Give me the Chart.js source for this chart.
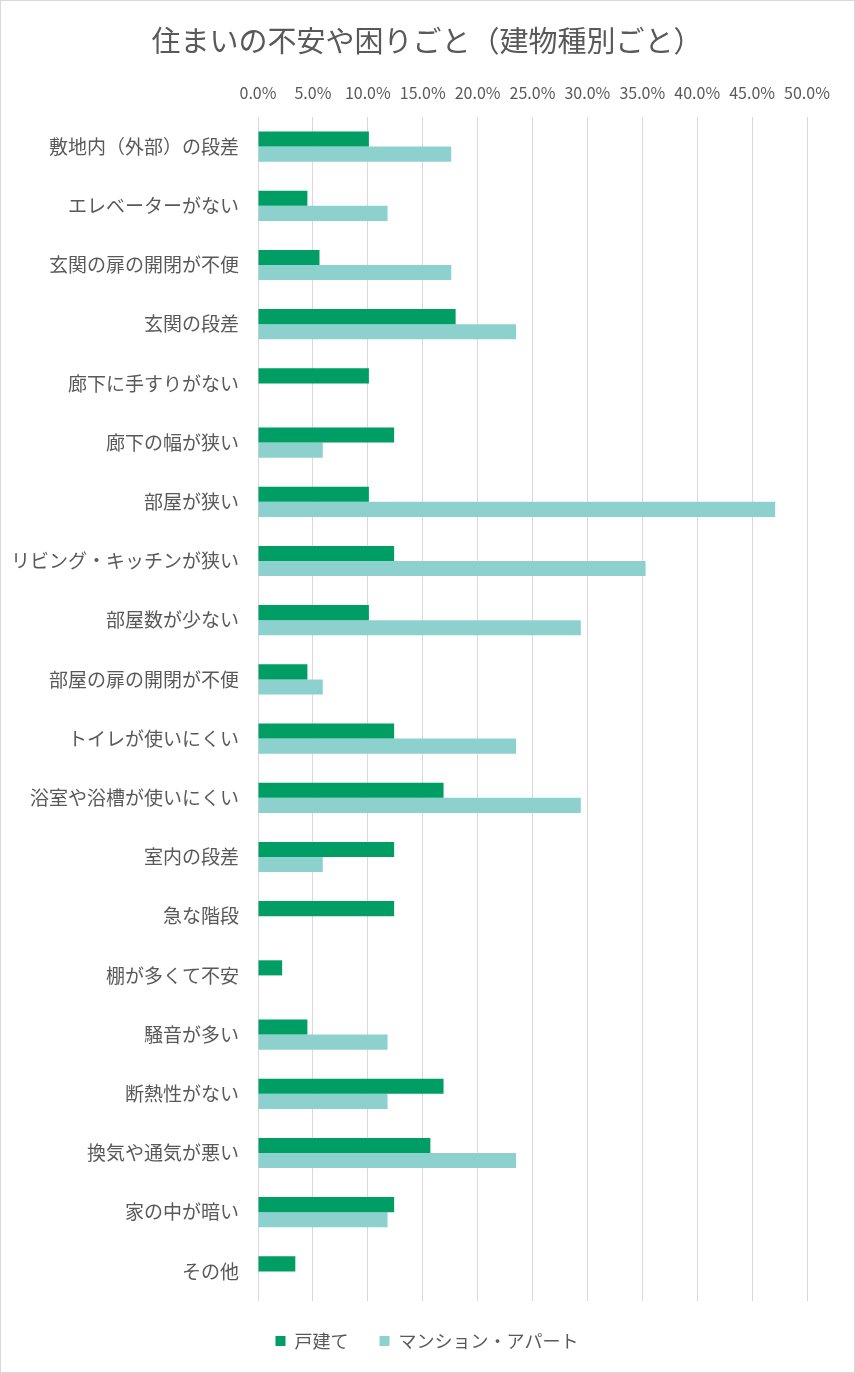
<!DOCTYPE html>
<html lang="ja">
<head>
<meta charset="UTF-8">
<title>住まいの不安や困りごと</title>
<script src="https://cdn.jsdelivr.net/npm/chart.js"></script>
<style>
  html, body { margin: 0; padding: 0; background: #fff; }
  #wrap { position: relative; width: 853px; height: 1371px; border: 1px solid #d9d9d9; }
</style>
</head>
<body>
<div id="wrap"><canvas id="chart"></canvas></div>
<script>
// categories (top to bottom)
const categories = [
  '敷地内（外部）の段差', 'エレベーターがない', '玄関の扉の開閉が不便', '玄関の段差',
  '廊下に手すりがない', '廊下の幅が狭い', '部屋が狭い', 'リビング・キッチンが狭い',
  '部屋数が少ない', '部屋の扉の開閉が不便', 'トイレが使いにくい', '浴室や浴槽が使いにくい',
  '室内の段差', '急な階段', '棚が多くて不安', '騒音が多い', '断熱性がない',
  '換気や通気が悪い', '家の中が暗い', 'その他'
];
// 戸建て (ratio)
const detached = [0.101, 0.045, 0.056, 0.180, 0.101, 0.124, 0.101, 0.124, 0.101, 0.045,
                  0.124, 0.169, 0.124, 0.124, 0.022, 0.045, 0.169, 0.157, 0.124, 0.034];
// マンション・アパート (ratio)
const apartment = [0.176, 0.118, 0.176, 0.235, 0, 0.059, 0.471, 0.353, 0.294, 0.059,
                   0.235, 0.294, 0.059, 0, 0, 0.118, 0.118, 0.235, 0.118, 0];

const FONT = "'Noto Sans CJK JP', 'Noto Sans', sans-serif";
const GRAY = '#595959';

new Chart(document.getElementById('chart'), {
  type: 'bar',
  data: {
    labels: categories,
    datasets: [
      { label: '戸建て', data: detached, backgroundColor: '#009E64' },
      { label: 'マンション・アパート', data: apartment, backgroundColor: '#8DD1CF' }
    ]
  },
  options: {
    indexAxis: 'y',
    responsive: true,
    maintainAspectRatio: false,
    animation: false,
    datasets: { bar: { categoryPercentage: 0.51, barPercentage: 1.0 } },
    layout: { padding: { left: 11, right: 12, top: 23, bottom: 12 } },
    plugins: {
      title: {
        display: true,
        text: '住まいの不安や困りごと（建物種別ごと）',
        color: GRAY,
        font: { family: FONT, size: 29, weight: 'normal' },
        padding: { top: 0, bottom: 11 }
      },
      legend: {
        position: 'bottom',
        labels: {
          color: GRAY,
          font: { family: FONT, size: 18 },
          boxWidth: 10, boxHeight: 10,
          padding: 31
        }
      },
      tooltip: { enabled: false }
    },
    scales: {
      x: {
        position: 'top',
        min: 0, max: 0.5,
        ticks: {
          stepSize: 0.05,
          color: GRAY,
          font: { family: FONT, size: 16 },
          padding: 14,
          callback: v => (v * 100).toFixed(1) + '%'
        },
        grid: { color: '#d9d9d9', drawTicks: false },
        border: { display: false }
      },
      y: {
        ticks: {
          color: GRAY,
          font: { family: FONT, size: 19 },
          padding: 11
        },
        grid: { display: false },
        border: { display: false },
        afterFit: s => { s.width = 246; }
      },
      // empty right-hand axis, only keeps the plot's right edge in place
      yRight: {
        type: 'category',
        position: 'right',
        ticks: { display: false },
        grid: { display: false },
        border: { display: false },
        afterFit: s => { s.width = 35; }
      }
    }
  }
});
</script>
</body>
</html>
